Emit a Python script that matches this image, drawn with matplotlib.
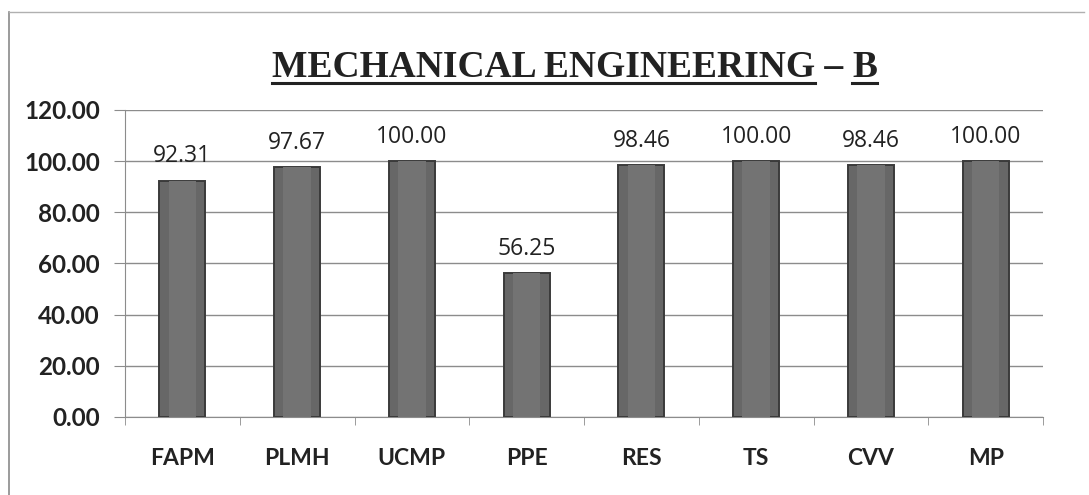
import numpy as np
import matplotlib.pyplot as plt
import matplotlib.ticker as ticker
from matplotlib.lines import Line2D

subjects = ["FAPM", "PLMH", "UCMP", "PPE", "RES", "TS", "CVV", "MP"]
pass_pct = [92.31, 97.67, 100.00, 56.25, 98.46, 100.00, 98.46, 100.00]
y_ticks = [0, 20, 40, 60, 80, 100, 120]

fig = plt.figure(figsize=(10.89, 4.95), dpi=100)
fig.patch.set_facecolor("white")

# рамка вокруг диаграммы (видны левая и верхняя стороны)
fig.add_artist(Line2D([0.008, 0.008], [0.0, 0.976], transform=fig.transFigure,
                      color="#8a8a8a", lw=1.2))
fig.add_artist(Line2D([0.008, 0.995], [0.976, 0.976], transform=fig.transFigure,
                      color="#b0b0b0", lw=1.0))

ax = fig.add_axes([0.1148, 0.1576, 0.843, 0.6202])
x = np.arange(len(subjects))

ax.bar(x, pass_pct, width=0.40, color="#676767", edgecolor="#3a3a3a",
       linewidth=1.4, zorder=3)
# чуть светлее по центру столбика
ax.bar(x, pass_pct, width=0.24, color="#737373", linewidth=0, zorder=4)

for xi, v in zip(x, pass_pct):
    ax.annotate(f"{v:.2f}", (xi, v), xytext=(0, 9), textcoords="offset points",
                ha="center", va="bottom", fontsize=16.5, family="Open Sans",
                color="#222222")

ax.set_xlim(-0.5, len(subjects) - 0.5)
ax.set_ylim(0, 120)
ax.set_yticks(y_ticks)
ax.yaxis.set_major_formatter(ticker.FormatStrFormatter("%.2f"))
ax.set_xticks(x)
ax.set_xticklabels(subjects)
ax.xaxis.set_minor_locator(ticker.FixedLocator(np.arange(-0.5, len(subjects), 1.0)))

ax.grid(axis="y", color="#8c8c8c", linewidth=1.0, zorder=0)
for s in ["top", "right"]:
    ax.spines[s].set_visible(False)
ax.spines["left"].set_color("#8c8c8c")
ax.spines["bottom"].set_color("#8c8c8c")

ax.tick_params(axis="y", which="major", length=8, color="#8c8c8c", pad=10,
               labelsize=17.5)
ax.tick_params(axis="x", which="major", length=0, pad=22, labelsize=16.5)
ax.tick_params(axis="x", which="minor", length=6, color="#8c8c8c")
for lbl in ax.get_yticklabels() + ax.get_xticklabels():
    lbl.set_fontweight("bold")
    lbl.set_family("Lato")
    lbl.set_color("#222222")

# заголовок с подчёркиванием, как в отчёте
ty = 0.844
t1 = fig.text(0.2495, ty, "MECHANICAL ENGINEERING", fontsize=27,
              fontweight="bold", family="Liberation Serif", color="#222222",
              ha="left", va="baseline")
fig.canvas.draw()
bb = t1.get_window_extent().transformed(fig.transFigure.inverted())
t2 = fig.text(bb.x1, ty, " \u2013 ", fontsize=27, fontweight="bold",
              family="Liberation Serif", color="#222222", ha="left", va="baseline")
fig.canvas.draw()
bb2 = t2.get_window_extent().transformed(fig.transFigure.inverted())
t3 = fig.text(bb2.x1, ty, "B", fontsize=27, fontweight="bold",
              family="Liberation Serif", color="#222222", ha="left", va="baseline")
fig.canvas.draw()
bb3 = t3.get_window_extent().transformed(fig.transFigure.inverted())
uy = 0.832
fig.add_artist(Line2D([bb.x0, bb.x1], [uy, uy], transform=fig.transFigure,
                      color="#222222", lw=2.2))
fig.add_artist(Line2D([bb3.x0, bb3.x1], [uy, uy], transform=fig.transFigure,
                      color="#222222", lw=2.2))

fig.savefig("out.png", dpi=100)
